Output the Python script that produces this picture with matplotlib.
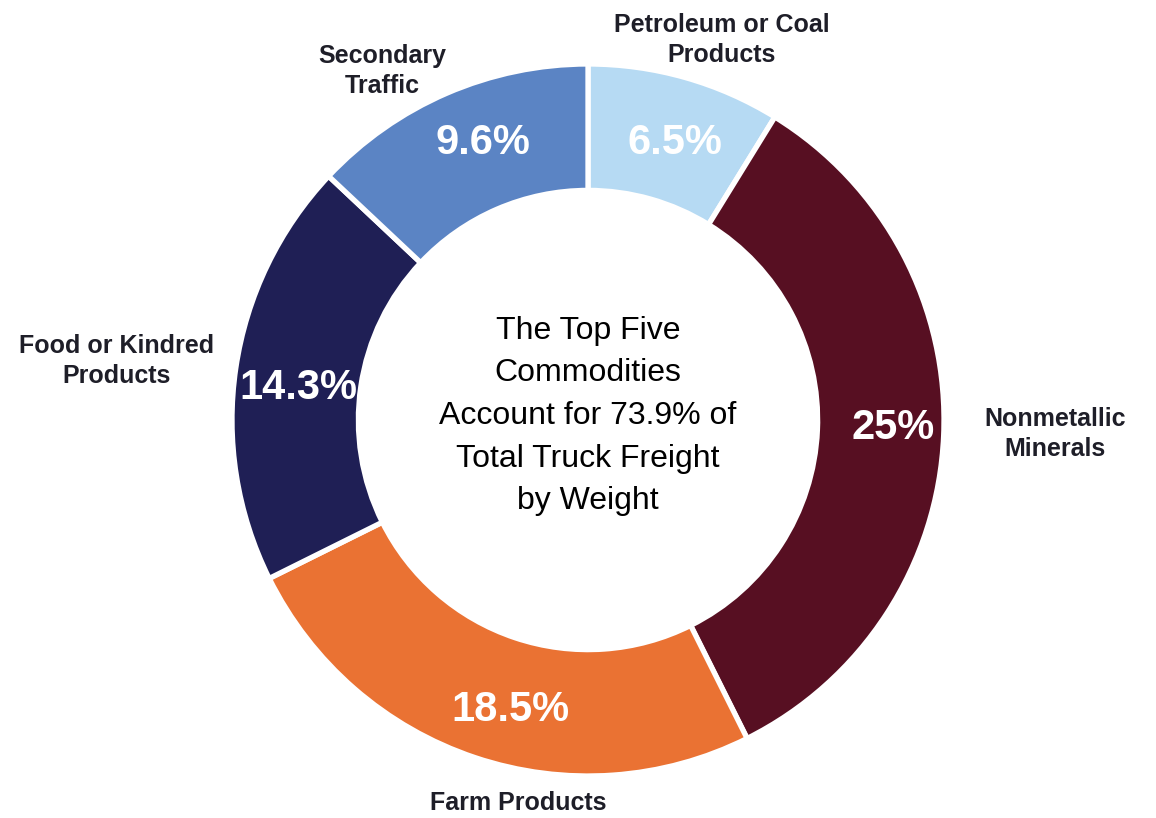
import matplotlib
matplotlib.use("Agg")
import matplotlib.pyplot as plt

# ---- data ----
categories = ["Petroleum or Coal\nProducts", "Nonmetallic\nMinerals", "Farm Products",
              "Food or Kindred\nProducts", "Secondary\nTraffic"]
values = [6.5, 25.0, 18.5, 14.3, 9.6]
pct_labels = ["6.5%", "25%", "18.5%", "14.3%", "9.6%"]
colors = ["#B6DAF3", "#570F22", "#EA7233", "#1F1F55", "#5B84C4"]
center_text = "The Top Five\nCommodities\nAccount for 73.9% of\nTotal Truck Freight\nby Weight"

# ---- layout (pixels in the 1156x818 image) ----
W, H = 1156, 818
cx, cy, R = 588, 420, 356
label_px = [(722, 40), (1055, 434), (518, 803), (117, 361), (382, 71)]
pct_px = [(675, 143), (893, 428), (510, 710), (298, 388), (483, 143)]

plt.rcParams['font.family'] = ['Liberation Sans', 'DejaVu Sans']

fig = plt.figure(figsize=(W / 100, H / 100), dpi=100)
ax = fig.add_axes([(cx - R) / W, (H - cy - R) / H, 2 * R / W, 2 * R / H])

wedges, texts = ax.pie(values, colors=colors, startangle=90, counterclock=False,
                       radius=1.0, frame=False,
                       wedgeprops=dict(width=0.355, edgecolor='white', linewidth=3.8))
ax.set_xlim(-1, 1)
ax.set_ylim(-1, 1)
ax.axis('off')


def to_data(px, py):
    return (px - cx) / R, (cy - py) / R


for (px, py), lab in zip(pct_px, pct_labels):
    x, y = to_data(px, py)
    ax.text(x, y, lab, ha='center', va='center',
            color='white', fontsize=30, fontweight='bold')

for (px, py), lab in zip(label_px, categories):
    x, y = to_data(px, py)
    ax.text(x, y, lab, ha='center', va='center',
            color='#1E1E28', fontsize=18, fontweight='bold', linespacing=1.3)

x, y = to_data(588, 416)
ax.text(x, y, center_text, ha='center', va='center',
        color='black', fontsize=23, linespacing=1.55)

fig.savefig("out.png", dpi=100)
